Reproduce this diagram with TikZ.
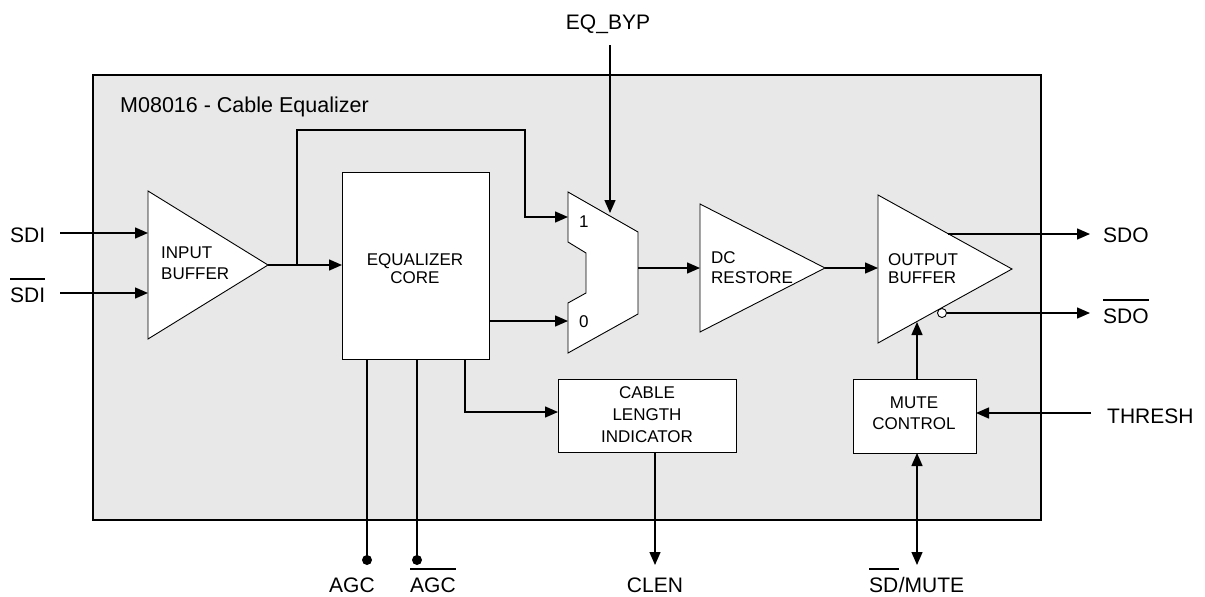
\documentclass[tikz,border=0pt]{standalone}
\usepackage{fontspec}
\setmainfont{Liberation Sans}
\usetikzlibrary{arrows.meta}
\definecolor{chipgray}{RGB}{232,232,232}
\begin{document}
\begin{tikzpicture}[x=1pt,y=-1pt,
  conn/.style={line width=1.4pt, draw=black},
  arr/.style={conn, -{Triangle[length=13pt,width=11pt]}},
  darr/.style={conn, {Triangle[length=13pt,width=11pt]}-{Triangle[length=13pt,width=11pt]}},
  blockshape/.style={draw=black, fill=white, line width=0.9pt},
  boxnode/.style={blockshape, inner sep=0pt, anchor=north west},
  pin/.style={inner sep=0pt, font=\fontsize{21}{25}\selectfont},
  blabel/.style={inner sep=0pt, font=\fontsize{17}{21}\selectfont},
  ovl/.style={line width=1.3pt}]
\useasboundingbox (0,0) rectangle (1205,597);
\fill[white] (0,0) rectangle (1205,597);
% chip outline
\draw[fill=chipgray, line width=1.4pt] (93,75) rectangle (1041,520);
\node[pin, anchor=base west, font=\fontsize{21.5}{25}\selectfont] (title) at (120,112) {M08016 - Cable Equalizer};

% ---- coordinates
\coordinate (sdiP) at (60,233);   \coordinate (ibIn1) at (148,233);
\coordinate (sdibP) at (60,293);  \coordinate (ibIn2) at (148,293);
\coordinate (ibT) at (148,191);   \coordinate (ibB) at (148,339);
\coordinate (ibOut) at (268,265);
\coordinate (br) at (297,265);    \coordinate (brUp) at (297,130);
\coordinate (brR) at (525,130);   \coordinate (brD) at (525,217);
\coordinate (mux1) at (568,217);  \coordinate (mux0) at (568,321);
\coordinate (mTL) at (568,192);   \coordinate (mTR) at (638,232);
\coordinate (mBR) at (638,314);   \coordinate (mBL) at (568,353);
\coordinate (eqP) at (610,45);    \coordinate (eqIn) at (610,213);
\coordinate (muxOut) at (638,268);
\coordinate (dcT) at (700,204);   \coordinate (dcB) at (700,332);
\coordinate (dcIn) at (700,268);  \coordinate (dcOut) at (825,268);
\coordinate (obT) at (878,195);   \coordinate (obB) at (878,343);
\coordinate (obIn) at (878,268);  \coordinate (obTip) at (1012,269);
\coordinate (sdoS) at (948,234);  \coordinate (sdoP) at (1090,234);
\coordinate (bub) at (942,313);   \coordinate (sdobP) at (1090,313);
\coordinate (obIn2) at (917,322); \coordinate (muteTop) at (917,379);
\coordinate (threshP) at (1091,413); \coordinate (muteR) at (976,413);
\coordinate (muteBot) at (917,453); \coordinate (sdmP) at (917,565);
\coordinate (coreTap) at (465,359); \coordinate (cliIn) at (558,412);
\coordinate (cliOut) at (655,452); \coordinate (clenP) at (655,565);
\coordinate (agcTop) at (367,359); \coordinate (agcP) at (367,560);
\coordinate (agcbTop) at (417,359); \coordinate (agcbP) at (417,560);

% ---- blocks
\draw[blockshape] (ibT) -- (ibOut) -- (ibB) -- cycle;
\node[blabel, anchor=north west, align=left] (ibl) at (161,247) {INPUT\\BUFFER};

\node[boxnode, minimum width=147pt, minimum height=187pt] (core) at (342,172) {};
\node[blabel, anchor=north, align=center, font=\fontsize{17}{18.5}\selectfont] (corel) at (415,253) {EQUALIZER\\CORE};

\draw[blockshape] (mTL) -- (mTR) -- (mBR) -- (mBL) -- (568,303) -- (586,293) -- (586,253) -- (568,242) -- cycle;
\node[blabel, anchor=base west] (m1) at (579,227) {1};
\node[blabel, anchor=base west] (m0) at (579,327) {0};

\draw[blockshape] (dcT) -- (dcOut) -- (dcB) -- cycle;
\node[blabel, anchor=north west, align=left, font=\fontsize{17}{20}\selectfont] (dcl) at (711,251) {DC\\RESTORE};

\draw[blockshape] (obT) -- (obTip) -- (obB) -- cycle;
\node[blabel, anchor=north west, align=left, font=\fontsize{17}{18.5}\selectfont] (obl) at (888,253) {OUTPUT\\BUFFER};
\draw[blockshape] (bub) circle (4.5pt);

\node[boxnode, minimum width=178pt, minimum height=73pt] (cli) at (558,379) {};
\node[blabel, anchor=north, align=center, font=\fontsize{17}{22}\selectfont] (clil) at (647,386) {CABLE\\LENGTH\\INDICATOR};

\node[boxnode, minimum width=123pt, minimum height=74pt] (mute) at (853,379) {};
\node[blabel, anchor=north, align=center] (mutel) at (914,397) {MUTE\\CONTROL};

% ---- connectors
\draw[arr] (sdiP) -- (ibIn1);
\draw[arr] (sdibP) -- (ibIn2);
\draw[arr] (ibOut) -- (core.west |- ibOut);
\draw[arr] (br) -- (brUp) -- (brR) -- (brD) -- (mux1);
\draw[arr] (eqP) -- (eqIn);
\draw[arr] (core.east |- mux0) -- (mux0);
\draw[arr] (muxOut) -- (dcIn);
\draw[arr] (dcOut) -- (obIn);
\draw[arr] (sdoS) -- (sdoP);
\draw[arr] ([xshift=4.5pt]bub) -- (sdobP);
\draw[arr] (muteTop) -- (obIn2);
\draw[arr] (threshP) -- (muteR);
\draw[darr] (muteBot) -- (sdmP);
\draw[arr] (coreTap) |- (cliIn);
\draw[arr] (cliOut) -- (clenP);
\draw[conn] (agcTop) -- (agcP);
\draw[conn] (agcbTop) -- (agcbP);
\fill (agcP) circle (5pt);
\fill (agcbP) circle (5pt);

% ---- pin labels
\node[pin, anchor=base west] (lsdi) at (10,242) {SDI};
\node[pin, anchor=base west] (lsdib) at (10,302) {SDI};
\draw[ovl] ([yshift=8pt]lsdib.north west) -- ([yshift=8pt]lsdib.north east);
\node[pin, anchor=base] (leq) at (608,29) {EQ\_BYP};
\node[pin, anchor=base west] (lsdo) at (1103,242) {SDO};
\node[pin, anchor=base west] (lsdob) at (1103,323) {SDO};
\draw[ovl] ([yshift=8pt]lsdob.north west) -- ([yshift=8pt]lsdob.north east);
\node[pin, anchor=base west] (lthr) at (1107,423) {THRESH};
\node[pin, anchor=base west] (lagc) at (329,592) {AGC};
\node[pin, anchor=base west] (lagcb) at (410,592) {AGC};
\draw[ovl] ([yshift=8pt]lagcb.north west) -- ([yshift=8pt]lagcb.north east);
\node[pin, anchor=base] (lclen) at (655,592) {CLEN};
\node[pin, anchor=base west] (lsd) at (869,592) {SD};
\node[pin, anchor=base west] (lmute) at (lsd.base east) {/MUTE};
\draw[ovl] ([yshift=8pt]lsd.north west) -- ([yshift=8pt]lsd.north east);
\end{tikzpicture}
\end{document}
